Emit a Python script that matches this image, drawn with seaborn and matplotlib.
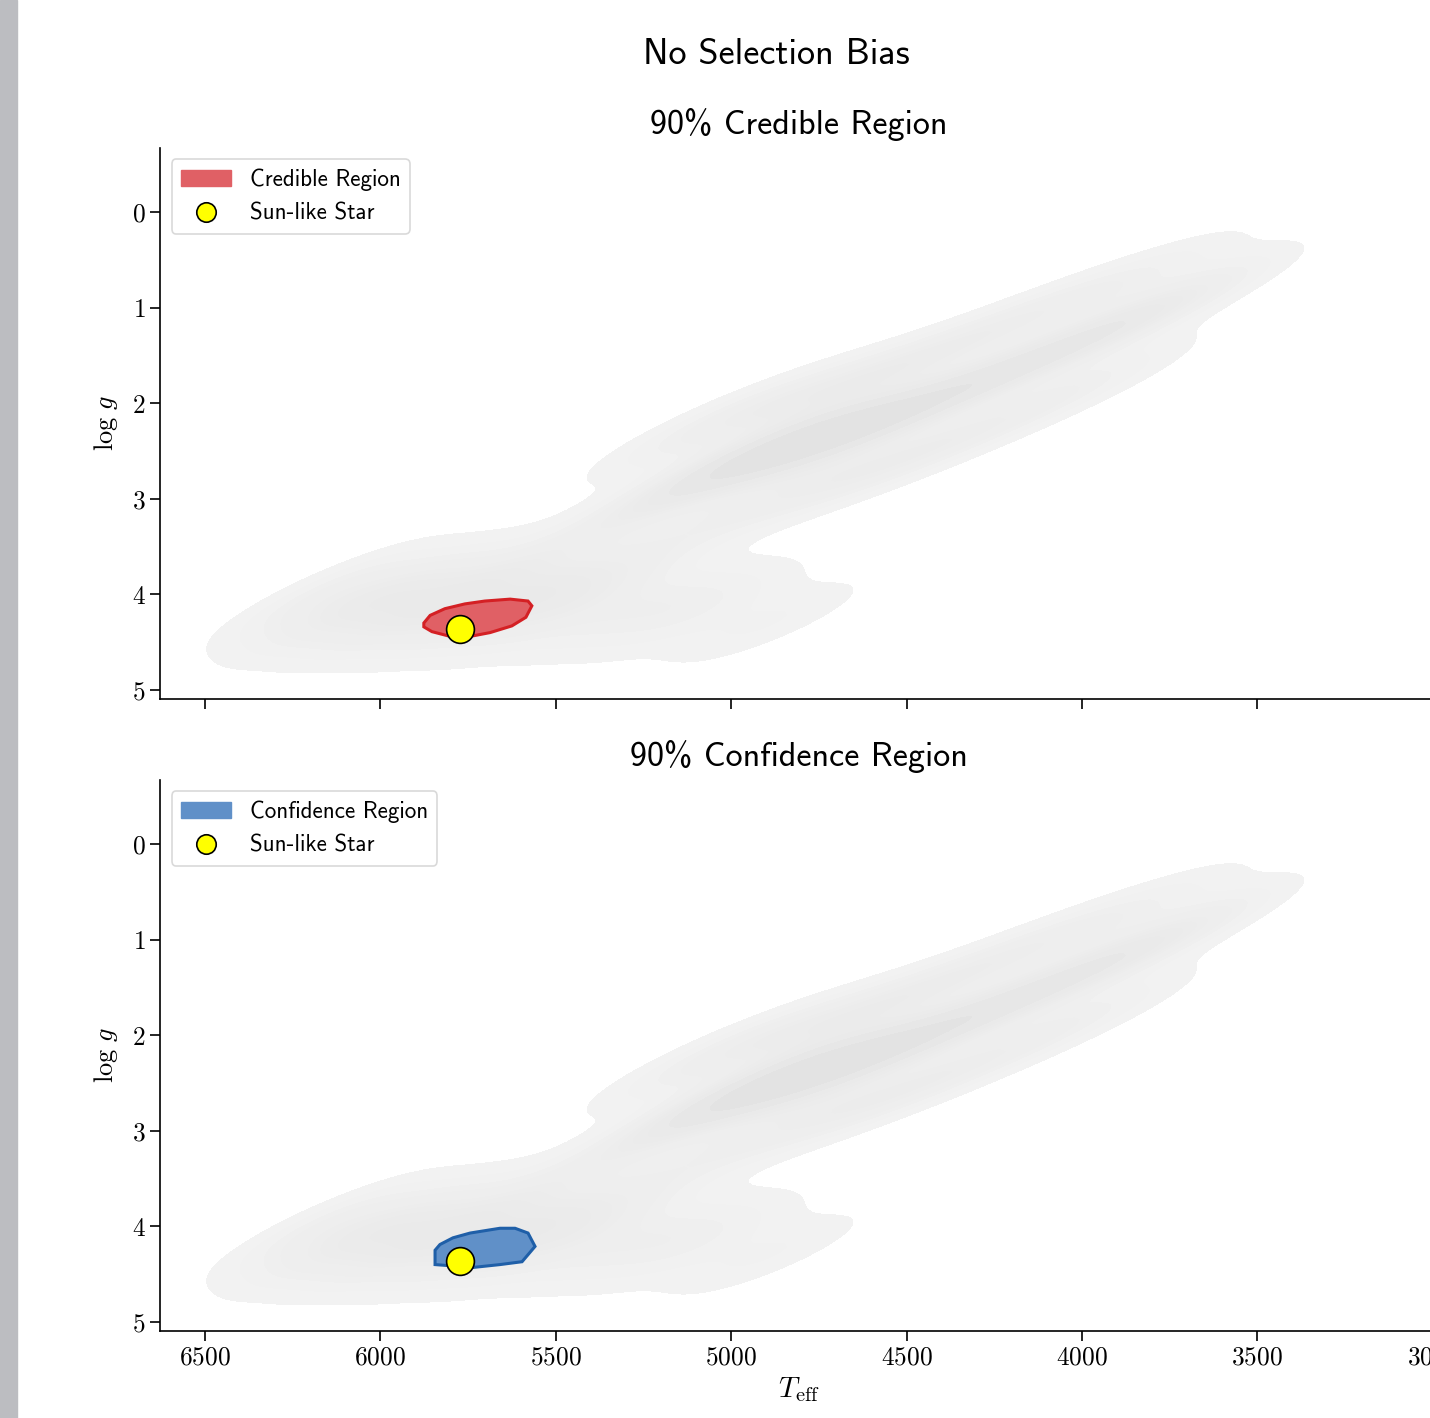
import numpy as np
import pandas as pd
import seaborn as sns
import matplotlib.pyplot as plt
from matplotlib.colors import LinearSegmentedColormap
from matplotlib.patches import Patch, Rectangle
from matplotlib.lines import Line2D

# background population anchors
# main sequence, three rows plus the cool tongue
ms_teff = [6100, 5900, 5700, 5500, 5350,
           6200, 6000, 5800, 5600, 5400, 5200, 5050,
           6180, 5980, 5780, 5580, 5380, 5180, 5000, 4850,
           4880]
ms_logg = [3.85, 3.85, 3.85, 3.85, 3.85,
           4.08, 4.08, 4.08, 4.08, 4.08, 4.08, 4.08,
           4.3, 4.3, 4.3, 4.3, 4.3, 4.3, 4.3, 4.3,
           4.3]
ms_weight = [0.7, 0.8, 0.8, 0.7, 0.6,
             0.8, 1.0, 1.0, 0.9, 0.8, 0.7, 0.6,
             0.6, 0.8, 0.8, 0.7, 0.6, 0.5, 0.5, 0.45,
             0.3]

# subgiant / giant branch: ridge, upper and lower rows
rgb_teff = [5350, 5200, 5050, 4900, 4780, 4650, 4500, 4350, 4200, 4050, 3900, 3750, 3620,
            5200, 5050, 4900, 4750, 4600, 4450, 4300, 4150, 4000, 3850, 3700,
            5050, 4900, 4750, 4600, 4450, 4300, 4150, 4000, 3850]
rgb_logg = [3.3, 2.95, 2.7, 2.5, 2.4, 2.28, 2.1, 1.88, 1.65, 1.42, 1.2, 0.97, 0.75,
            2.45, 2.2, 2.0, 1.88, 1.72, 1.52, 1.3, 1.08, 0.88, 0.68, 0.5,
            3.2, 3.0, 2.88, 2.72, 2.52, 2.3, 2.07, 1.85, 1.6]
rgb_weight = [0.6, 0.8, 1.0, 1.4, 2.0, 1.5, 1.1, 1.0, 1.0, 1.0, 0.9, 0.8, 0.6,
              0.5, 0.6, 0.7, 0.8, 0.7, 0.6, 0.6, 0.6, 0.5, 0.45, 0.35,
              0.5, 0.6, 0.7, 0.7, 0.6, 0.6, 0.5, 0.5, 0.4]

# 90% regions
cred_teff = [5876, 5858, 5816, 5759, 5702, 5630, 5579, 5568, 5585, 5625, 5687, 5744, 5801, 5853, 5876]
cred_logg = [4.30, 4.22, 4.15, 4.10, 4.07, 4.05, 4.07, 4.12, 4.24, 4.33, 4.40, 4.44, 4.44, 4.39, 4.34]

conf_teff = [5844, 5844, 5736, 5659, 5596, 5559, 5579, 5616, 5659, 5744, 5793, 5830]
conf_logg = [4.25, 4.40, 4.43, 4.40, 4.37, 4.21, 4.07, 4.02, 4.02, 4.07, 4.12, 4.19]

sun_teff = 5772
sun_logg = 4.36

stars = pd.DataFrame({
    'teff': ms_teff + rgb_teff,
    'logg': ms_logg + rgb_logg,
    'w': ms_weight + rgb_weight,
})

sns.set_style('ticks')
plt.rcParams['mathtext.fontset'] = 'cm'
plt.rcParams['axes.formatter.use_mathtext'] = True
for k in ['text.color', 'axes.labelcolor', 'xtick.color', 'ytick.color', 'axes.edgecolor']:
    plt.rcParams[k] = 'black'

greys = LinearSegmentedColormap.from_list('bg', ['#f3f3f3', '#e0e0e0'])

fig = plt.figure(figsize=(14.3, 14.18), dpi=100)
fig.patches.append(Rectangle((0, 0), 17 / 1430, 1, transform=fig.transFigure,
                             color='#bcbdc1', zorder=0))

ax_top = fig.add_axes([0.1119, 0.5071, 0.8937, 0.3886])
ax_bot = fig.add_axes([0.1119, 0.0614, 0.8937, 0.3886])

panels = [
    (ax_top, '90% Credible Region', 'Credible Region', cred_teff, cred_logg,
     '#e06065', '#d42024'),
    (ax_bot, '90% Confidence Region', 'Confidence Region', conf_teff, conf_logg,
     '#6090c8', '#1f5fa8'),
]

for ax, title, lab, rx, ry, fc, ec in panels:
    sns.kdeplot(data=stars, x='teff', y='logg', weights='w', fill=True,
                bw_adjust=0.6, levels=12, thresh=0.07, cmap=greys, ax=ax)
    ax.fill(rx, ry, facecolor=fc, edgecolor=ec, lw=2.2, zorder=3)
    ax.plot([sun_teff], [sun_logg], 'o', ms=20, mfc='yellow', mec='black',
            mew=1.2, zorder=4)
    ax.set_xlim(6628, 2985)
    ax.set_ylim(5.094, -0.67)
    ax.set_yticks([0, 1, 2, 3, 4, 5])
    ax.set_xticks([6500, 6000, 5500, 5000, 4500, 4000, 3500, 3000])
    for t in ax.get_xticklabels() + ax.get_yticklabels():
        t.set_fontfamily('cmr10')
    ax.tick_params(labelsize=18.3, length=7, width=1.2, color='black')
    ax.set_ylabel(r'$\log\,g$', fontsize=19, labelpad=8)
    ax.set_xlabel('')
    ax.set_title(title, fontsize=24.5, family='cmss10', pad=10)
    sns.despine(ax=ax)
    for s in ['left', 'bottom']:
        ax.spines[s].set_linewidth(1.2)
    handles = [
        Patch(facecolor=fc, edgecolor=fc),
        Line2D([], [], marker='o', ls='', ms=14, mfc='yellow', mec='black', mew=1.2),
    ]
    leg = ax.legend(handles, [lab, 'Sun-like Star'], loc='upper left',
                    prop={'family': 'cmss10', 'size': 16.6}, frameon=True,
                    handlelength=2.2, borderpad=0.4, fancybox=True)
    leg.get_frame().set_edgecolor('#d0d0d0')
    leg.get_frame().set_linewidth(1.2)

ax_top.tick_params(labelbottom=False)
ax_bot.set_xlabel(r'$T_{\rm eff}$', fontsize=21, labelpad=4)

fig.suptitle('No Selection Bias', x=0.543, y=0.973, fontsize=26, family='cmss10')

fig.savefig('out.png', dpi=100)
